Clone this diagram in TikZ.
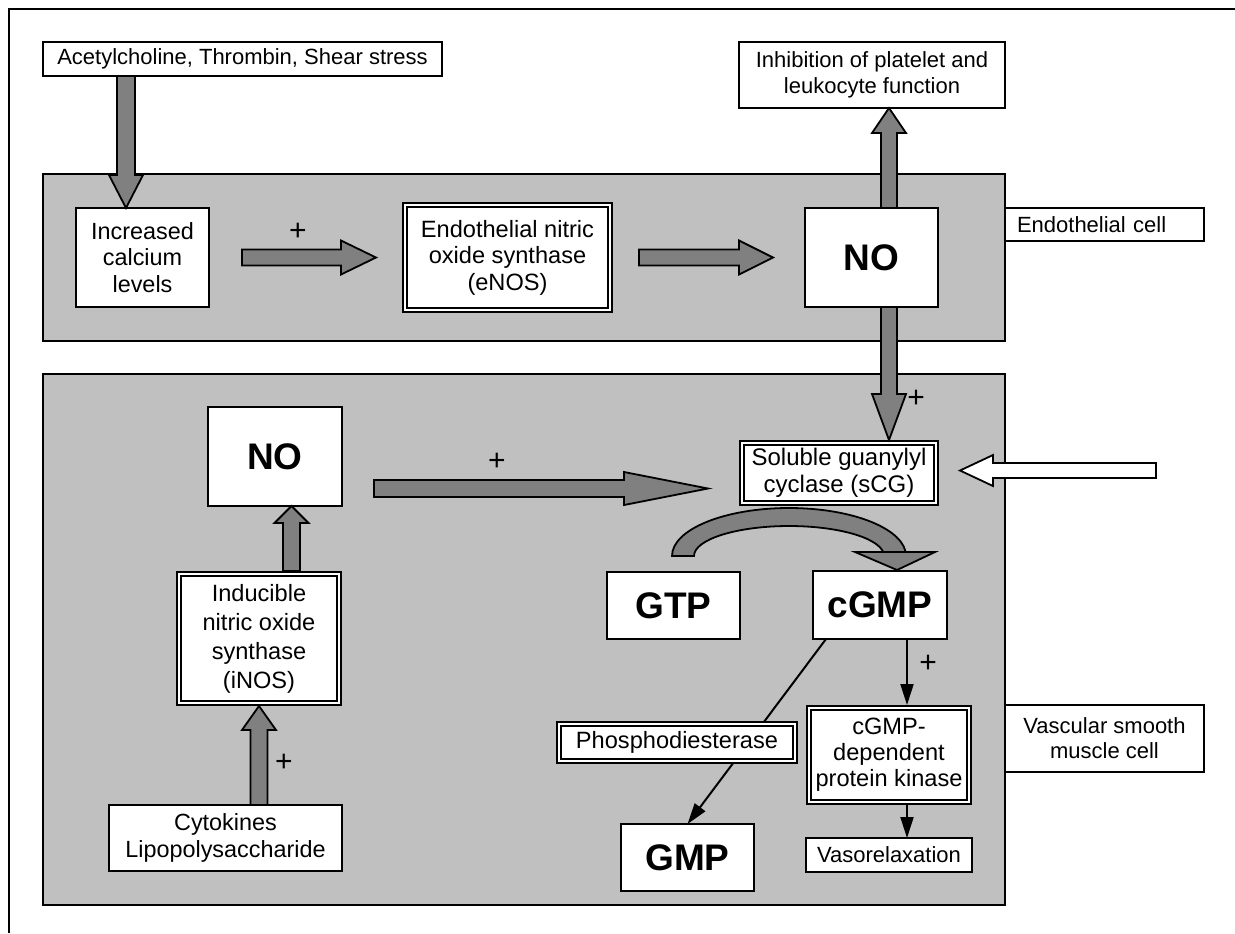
\documentclass[tikz,border=0pt]{standalone}
\usepackage{fontspec}
\setmainfont{Liberation Sans}
\usetikzlibrary{calc,arrows.meta}

\definecolor{cellgray}{HTML}{C0C0C0}
\definecolor{arrowgray}{HTML}{808080}

\tikzset{
  box/.style={draw, fill=white, line width=1pt, inner sep=0pt, outer sep=0pt, align=center, font=\fontsize{11}{13.3}\selectfont},
  dbox/.style={box, double=white, double distance=1.2pt, outer sep=1.6pt, font=\fontsize{11.8}{13.2}\selectfont},
  bigbox/.style={box, font=\fontsize{18.5}{22}\selectfont\bfseries},
  cell/.style={draw, fill=cellgray, line width=1pt},
  plus/.style={inner sep=0pt, font=\fontsize{15}{18}\selectfont},
  thinarrow/.style={line width=1pt, -{Triangle[length=10.5pt,width=6.5pt]}},
  blockarrow/.style={draw, line width=0.9pt, line join=miter}
}

\begin{document}
\begin{tikzpicture}[x=0.5pt,y=-0.5pt]
\useasboundingbox (0,0) rectangle (1235,933);
\draw[line width=1pt] (9,933) -- (9,9) -- (1235,9);

% endothelial cell and smooth muscle cell
\draw[cell] (43,174) rectangle (1005,341);
\draw[cell] (43,374) rectangle (1005,905);

\node[box, minimum width=199.5pt, minimum height=17pt] (stim) at (242.5,59) {Acetylcholine, Thrombin, Shear stress};
\node[box, minimum width=66.5pt, minimum height=49.5pt, font=\fontsize{11.7}{13.2}\selectfont] (calc) at (142.5,257.5) {Increased\\calcium\\levels};
\node[dbox, minimum width=102.3pt, minimum height=52.3pt] (enos) at (507.5,257.5) {Endothelial nitric\\oxide synthase\\(eNOS)};
\node[bigbox, minimum width=66.5pt, minimum height=49.5pt] (noE) at (871.5,257.5) {NO};
\node[box, minimum width=133pt, minimum height=33pt] (inhib) at (872,75) {Inhibition of platelet and\\leukocyte function};
\node[box, minimum width=99.5pt, minimum height=16.5pt, text width=87.5pt, align=left] (endo) at (1104.5,224.5) {Endothelial cell};

\node[bigbox, minimum width=67pt, minimum height=49.5pt] (noI) at (275,456.5) {NO};
\node[dbox, minimum width=79.8pt, minimum height=64.3pt, font=\fontsize{11.8}{14.5}\selectfont] (inos) at (259,638.5) {Inducible\\nitric oxide\\synthase\\(iNOS)};
\node[box, minimum width=116.5pt, minimum height=33pt, font=\fontsize{11.7}{13.3}\selectfont] (cyto) at (225.5,838) {Cytokines\\Lipopolysaccharide};
\node[dbox, minimum width=96.8pt, minimum height=29.8pt, font=\fontsize{12}{13.3}\selectfont] (sgc) at (839,473) {Soluble guanylyl\\cyclase (sCG)};
\node[bigbox, minimum width=66.5pt, minimum height=33.5pt] (gtp) at (673.5,605.5) {GTP};
\node[bigbox, minimum width=67pt, minimum height=34pt] (cgmp) at (880,605) {cGMP};
\node[dbox, minimum width=79.8pt, minimum height=46.8pt, font=\fontsize{11.8}{13}\selectfont] (pkg) at (889,755) {cGMP-\\dependent\\protein kinase};
\node[bigbox, minimum width=66.5pt, minimum height=33.5pt] (gmp) at (687.5,857.5) {GMP};
\node[box, minimum width=83pt, minimum height=17pt] (vaso) at (889,855) {Vasorelaxation};
\node[box, minimum width=99.5pt, minimum height=33.5pt, font=\fontsize{11}{12.5}\selectfont] (vsmc) at (1104.5,738.5) {Vascular smooth\\muscle cell};

\coordinate (aE) at ([xshift=-8.25pt]calc.north);
\coordinate (bS) at ([xshift=16.5pt]calc.east);
\coordinate (bE) at ([xshift=-13pt]enos.west);
\coordinate (cS) at ([xshift=13pt]enos.east);
\coordinate (cE) at ([xshift=-16pt]noE.west);
\coordinate (dS) at ([xshift=8.75pt]noE.north);
\coordinate (eS) at ([xshift=8.75pt]noE.south);
\coordinate (fE) at ([xshift=8.25pt]noI.south);
\coordinate (gE) at (inos.south);
\coordinate (hS) at ([xshift=16pt]noI.east);
\coordinate (hE) at ([shift={(-15.5pt,-7.75pt)}]sgc.west);
\coordinate (iE) at ([shift={(10.5pt,1.25pt)}]sgc.east);
\coordinate (light) at ([shift={(108.5pt,1.25pt)}]sgc.east);

\foreach \s/\e/\w/\hw/\hlen/\col in {
  stim.south -| aE/aE/4.5pt/8.5pt/16.5pt/arrowgray,
  bS/bE/4pt/8.5pt/17.5pt/arrowgray,
  cS/cE/4pt/8.5pt/17pt/arrowgray,
  dS/inhib.south -| dS/4pt/8.5pt/12.5pt/arrowgray,
  eS/sgc.north -| eS/4pt/8.5pt/23pt/arrowgray,
  inos.north -| fE/fE/4.25pt/8.5pt/8.5pt/arrowgray,
  cyto.north -| gE/gE/4.25pt/8.5pt/12pt/arrowgray,
  hS |- hE/hE/4.25pt/8.25pt/42pt/arrowgray,
  light/iE/3.75pt/7.75pt/16.5pt/white}{
  \path ($(\e)!\hlen!(\s)$) coordinate (hb);
  \draw[blockarrow, fill=\col] ($(\s)!\w!90:(\e)$) -- ($(hb)!\w!90:(\e)$) -- ($(hb)!\hw!90:(\e)$) -- (\e)
    -- ($(hb)!\hw!-90:(\e)$) -- ($(hb)!\w!-90:(\e)$) -- ($(\s)!\w!-90:(\e)$) -- cycle;
}

% GTP -> cGMP
\draw[blockarrow, fill=arrowgray] (672,556) arc[start angle=180, end angle=0, x radius=58.5pt, y radius=24pt]
  -- (884,556) arc[start angle=0, end angle=180, x radius=47.5pt, y radius=15pt] -- cycle;
\draw[blockarrow, fill=arrowgray] (855,552) -- (935,552) -- (897,570) -- cycle;

\draw[thinarrow] ([xshift=6.5pt]cgmp.south west) -- (gmp.north);
\node[dbox, minimum width=117.8pt, minimum height=18.3pt] (pde) at (677,742.5) {Phosphodiesterase};
\coordinate (kE) at ([xshift=9pt]pkg.north);
\draw[thinarrow] (cgmp.south -| kE) -- (kE);
\coordinate (vE) at ([xshift=9pt]vaso.north);
\draw[thinarrow] (pkg.south -| vE) -- (vE);

\node[plus] (p1) at (298,232) {+};
\node[plus] (p2) at (916,399) {+};
\node[plus] (p3) at (497,462) {+};
\node[plus] (p4) at (284,763) {+};
\node[plus] (p5) at (928,664) {+};
\end{tikzpicture}
\end{document}
